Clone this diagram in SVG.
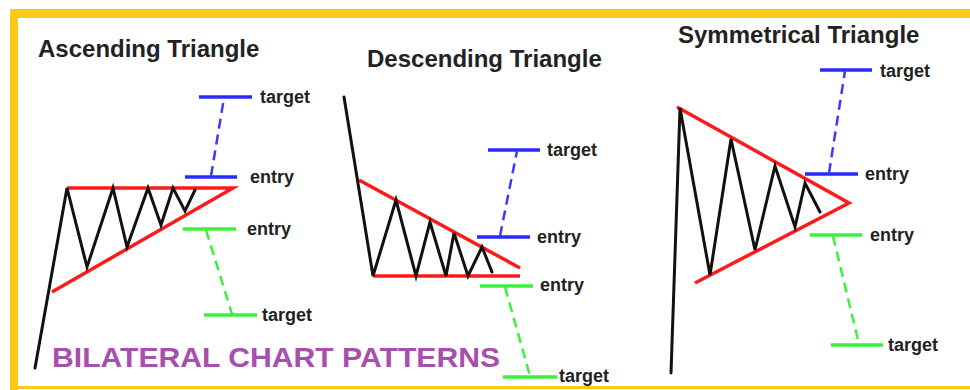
<svg xmlns="http://www.w3.org/2000/svg" width="970" height="390" viewBox="0 0 970 390">
<style>
.title{font-family:"Liberation Sans",Arial,sans-serif;font-weight:bold;font-size:24px;fill:#222}
.lbl{font-family:"Liberation Sans",Arial,sans-serif;font-weight:bold;font-size:18px;fill:#222}
.big{font-family:"Liberation Sans",Arial,sans-serif;font-weight:bold;font-size:28px;fill:#a64fae}
.price{fill:none;stroke:#111;stroke-width:3;stroke-linejoin:miter;stroke-linecap:round}
.bound{fill:none;stroke:#ff1a1a;stroke-width:3.5;stroke-linejoin:miter}
.bt{stroke:#2a2aff;stroke-width:3.5}
.bd{stroke:#3a3aff;stroke-width:2.5;stroke-dasharray:10 6}
.gt{stroke:#3cf03c;stroke-width:3.5}
.gd{stroke:#3cf03c;stroke-width:2.5;stroke-dasharray:10 6}
</style>
<rect x="0" y="0" width="970" height="390" fill="#fff"/>
<g id="frame">
<rect x="10" y="9" width="960" height="9" fill="#fdc918"/>
<rect x="10" y="9" width="8" height="381" fill="#fdc918"/>
<rect x="10" y="386" width="960" height="3" fill="#fdc918"/>
</g>
<g id="ascending">
<text class="title" x="38" y="57">Ascending Triangle</text>
<polyline class="bound" points="67,188 233,188 52,292"/>
<polyline class="price" points="35,368 67,188 87,267 113,188 127,247 148,188 161,225 173,188 185,211 195,190"/>
</g>
<g id="ascending-targets">
<line class="bt" x1="185" y1="177" x2="237" y2="177"/>
<line class="bt" x1="199" y1="97" x2="252" y2="97"/>
<line class="bd" x1="211" y1="176" x2="224" y2="98"/>
<text class="lbl" x="250" y="183">entry</text>
<text class="lbl" x="260" y="103">target</text>
<line class="gt" x1="183" y1="229" x2="236" y2="229"/>
<line class="gt" x1="204" y1="315" x2="257" y2="315"/>
<line class="gd" x1="206" y1="230" x2="232" y2="314"/>
<text class="lbl" x="247" y="235">entry</text>
<text class="lbl" x="262" y="321">target</text>
</g>
<g id="descending">
<text class="title" x="367" y="67">Descending Triangle</text>
<line class="bound" x1="359" y1="180" x2="520" y2="268"/>
<line class="bound" x1="373" y1="276" x2="520" y2="276"/>
<polyline class="price" points="344,97 373,276 396,200 416,276 430,222 446,276 454,233 468,276 482,247 492,272"/>
</g>
<g id="descending-targets">
<line class="bt" x1="477" y1="237" x2="530" y2="237"/>
<line class="bt" x1="488" y1="150" x2="540" y2="150"/>
<line class="bd" x1="500" y1="236" x2="517" y2="151"/>
<text class="lbl" x="537" y="243">entry</text>
<text class="lbl" x="547" y="156">target</text>
<line class="gt" x1="480" y1="286" x2="533" y2="286"/>
<line class="gt" x1="503" y1="377" x2="557" y2="377"/>
<line class="gd" x1="505" y1="287" x2="530" y2="376"/>
<text class="lbl" x="540" y="291">entry</text>
<text class="lbl" x="559" y="382">target</text>
</g>
<g id="symmetrical">
<text class="title" x="678" y="43">Symmetrical Triangle</text>
<polyline class="bound" points="677,107 849,203 695,283"/>
<polyline class="price" points="671,373 680,108 710,275 731,139 755,250 775,166 795,227 805,183 820,212"/>
</g>
<g id="symmetrical-targets">
<line class="bt" x1="805" y1="174" x2="858" y2="174"/>
<line class="bt" x1="820" y1="70" x2="872" y2="70"/>
<line class="bd" x1="829" y1="173" x2="845" y2="71"/>
<text class="lbl" x="865" y="180">entry</text>
<text class="lbl" x="880" y="77">target</text>
<line class="gt" x1="810" y1="235" x2="862" y2="235"/>
<line class="gt" x1="831" y1="345" x2="883" y2="345"/>
<line class="gd" x1="833" y1="236" x2="859" y2="344"/>
<text class="lbl" x="870" y="241">entry</text>
<text class="lbl" x="888" y="351">target</text>
</g>
<text class="big" x="52" y="367" textLength="448" lengthAdjust="spacingAndGlyphs">BILATERAL CHART PATTERNS</text>
</svg>
